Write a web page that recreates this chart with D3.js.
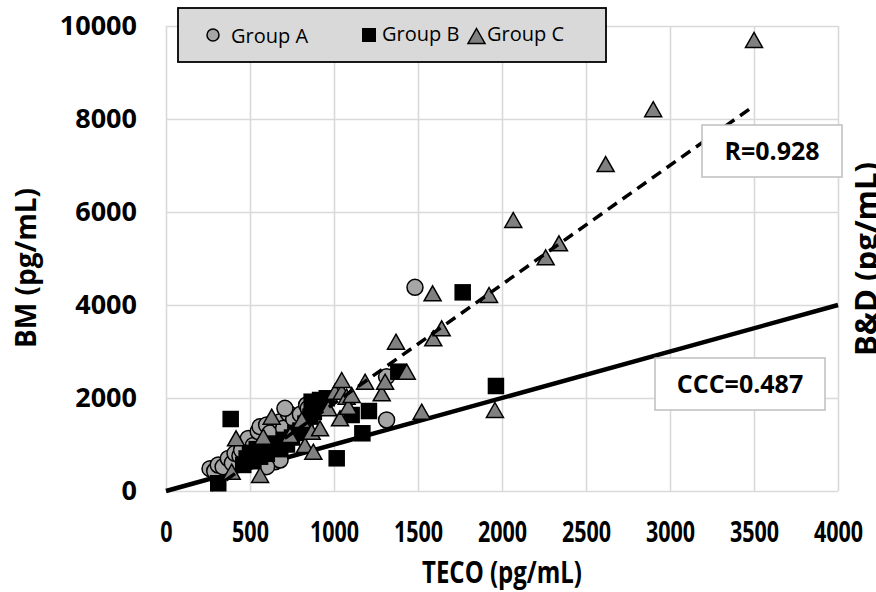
<!DOCTYPE html>
<html>
<head>
<meta charset="utf-8">
<script src="https://cdn.jsdelivr.net/npm/d3@7/dist/d3.min.js"></script>
<style>
  body { margin: 0; background: #fff; }
  svg { display: block; }
</style>
</head>
<body>
<div id="chart"></div>
<script>
// values, [TECO, BM] in pg/mL
var groupA = [
  [262, 480], [290, 430], [311, 560], [340, 520], [371, 700], [395, 600],
  [411, 810], [440, 760], [450, 880], [490, 1130], [520, 980], [549, 1280],
  [560, 1383], [599, 1420], [620, 1250], [649, 845], [649, 630], [679, 667],
  [599, 523], [679, 1490], [700, 1350], [728, 1671], [760, 1550], [708, 1778],
  [800, 1650], [837, 1849], [847, 1778], [1313, 1527], [1313, 2459], [1482, 4380]
];
var groupB = [
  [311, 166], [385, 1548], [460, 560], [480, 700], [500, 820], [520, 640],
  [540, 900], [560, 738], [600, 800], [620, 950], [650, 1020], [680, 900],
  [700, 1100], [720, 1000], [750, 1150], [770, 1250], [800, 1300], [830, 1450],
  [860, 1600], [867, 1920], [880, 1700], [897, 1813], [917, 1957], [940, 1850],
  [957, 1994], [1016, 703], [1105, 1634], [1169, 1241], [1208, 1720],
  [1383, 2566], [1766, 4272], [1964, 2258]
];
var groupC = [
  [391, 415], [417, 1133], [560, 344], [579, 1168], [629, 1598], [738, 1204],
  [808, 1527], [827, 989], [867, 1276], [877, 845], [917, 1348], [966, 1778],
  [1006, 2136], [1036, 1563], [1046, 2136], [1046, 2387], [1075, 2028],
  [1085, 1813], [1105, 2065], [1185, 2351], [1284, 2101], [1304, 2351],
  [1369, 3211], [1433, 2566], [1522, 1706], [1587, 4251], [1591, 3283],
  [1641, 3498], [1923, 4215], [1958, 1742], [2067, 5828], [2260, 5026],
  [2339, 5327], [2617, 7032], [2900, 8210], [3500, 9700]
];
var xTicks = [0, 500, 1000, 1500, 2000, 2500, 3000, 3500, 4000];
var yTicks = [0, 2000, 4000, 6000, 8000, 10000];
var legendLabels = ["Group A", "Group B", "Group C"];
var fitLine = [[270, 13], [3500, 8282]];     // regression (dashed)
var identityLine = [[0, 0], [4000, 4000]];   // y = x (solid)
var notes = ["R=0.928", "CCC=0.487"];

var width = 876,
    height = 592,
    pLeft = 166, pRight = 838, pTop = 26, pBottom = 491;

var x = d3.scaleLinear().domain([0, 4000]).range([pLeft, pRight]);
var y = d3.scaleLinear().domain([0, 10000]).range([pBottom, pTop]);

var svg = d3.select("#chart").append("svg")
    .attr("width", width)
    .attr("height", height)
    .style("font-family", "'Open Sans', sans-serif");

svg.append("rect").attr("width", width).attr("height", height).attr("fill", "#fff");

// grid + tick labels
var yAxis = svg.append("g")
    .attr("transform", "translate(" + pLeft + ",0)")
    .call(d3.axisLeft(y).tickValues(yTicks).tickFormat(d3.format("d"))
      .tickSize(-(pRight - pLeft)).tickPadding(29));
var xAxis = svg.append("g")
    .attr("transform", "translate(0," + pBottom + ")")
    .call(d3.axisBottom(x).tickValues(xTicks).tickFormat(d3.format("d"))
      .tickSize(-(pBottom - pTop)));

[xAxis, yAxis].forEach(function (g) {
  g.select(".domain").remove();
  g.selectAll("line").attr("stroke", "#d9d9d9").attr("stroke-width", 1.6);
  g.selectAll("text")
    .attr("fill", "#000")
    .style("font-family", "'Open Sans', sans-serif")
    .style("font-size", "27px")
    .style("font-weight", "bold");
});
// the x labels are set narrower than the y ones in the picture
xAxis.selectAll("text")
  .attr("dy", 0).attr("y", 51)
  .style("font-size", "29px")
  .attr("textLength", function (d) { return String(d).length * 12.3; })
  .attr("lengthAdjust", "spacingAndGlyphs");

var line = d3.line().x(function (d) { return x(d[0]); }).y(function (d) { return y(d[1]); });

svg.append("path")
  .datum(identityLine)
  .attr("d", line)
  .attr("fill", "none")
  .attr("stroke", "#000")
  .attr("stroke-width", 4.5);

// markers
var markers = svg.append("g").attr("stroke", "#000").attr("stroke-width", 1.5);

markers.selectAll("circle.a")
  .data(groupA).enter().append("circle")
  .attr("cx", function (d) { return x(d[0]); })
  .attr("cy", function (d) { return y(d[1]); })
  .attr("r", 8)
  .attr("fill", "#a6a6a6");

markers.selectAll("rect.b")
  .data(groupB).enter().append("rect")
  .attr("x", function (d) { return x(d[0]) - 7.5; })
  .attr("y", function (d) { return y(d[1]) - 7.5; })
  .attr("width", 15)
  .attr("height", 15)
  .attr("fill", "#000");

function tri(cx, cy, w, h) {
  return "M" + cx + "," + (cy - h / 2) + "L" + (cx + w / 2) + "," + (cy + h / 2) +
    "L" + (cx - w / 2) + "," + (cy + h / 2) + "Z";
}

markers.selectAll("path.c")
  .data(groupC).enter().append("path")
  .attr("d", function (d) { return tri(x(d[0]), y(d[1]), 17, 15); })
  .attr("fill", "#808080");

svg.append("path")
  .datum(fitLine)
  .attr("d", line)
  .attr("fill", "none")
  .attr("stroke", "#000")
  .attr("stroke-width", 3.5)
  .attr("stroke-dasharray", "11,7");

// R / CCC boxes
var boxes = [
  { text: notes[0], x0: 702, y0: 125, w: 140, h: 52 },
  { text: notes[1], x0: 655, y0: 358, w: 170, h: 52 }
];
boxes.forEach(function (b) {
  svg.append("rect")
    .attr("x", b.x0).attr("y", b.y0).attr("width", b.w).attr("height", b.h)
    .attr("fill", "#fff").attr("stroke", "#bfbfbf").attr("stroke-width", 1.5);
  svg.append("text")
    .attr("x", b.x0 + b.w / 2).attr("y", b.y0 + b.h / 2 + 9)
    .attr("text-anchor", "middle")
    .style("font-size", "25px").style("font-weight", "bold")
    .text(b.text);
});

// legend
var legend = svg.append("g");
legend.append("rect")
  .attr("x", 178).attr("y", 8).attr("width", 428).attr("height", 54)
  .attr("fill", "#d9d9d9").attr("stroke", "#000").attr("stroke-width", 1.8);
legend.append("circle").attr("cx", 213).attr("cy", 35).attr("r", 6)
  .attr("fill", "#a6a6a6").attr("stroke", "#000").attr("stroke-width", 1.5);
legend.append("rect").attr("x", 362).attr("y", 28).attr("width", 14).attr("height", 14)
  .attr("fill", "#000");
legend.append("path").attr("d", tri(476.5, 36, 17, 15))
  .attr("fill", "#808080").attr("stroke", "#000").attr("stroke-width", 1.5);
var legendPos = [[231, 43], [382, 41], [487, 41]];
legend.selectAll("text")
  .data(legendLabels).enter().append("text")
  .attr("x", function (d, i) { return legendPos[i][0]; })
  .attr("y", function (d, i) { return legendPos[i][1]; })
  .style("font-size", "20px")
  .attr("fill", "#000")
  .text(function (d) { return d; });

// axis titles
svg.append("text")
  .attr("x", (pLeft + pRight) / 2).attr("y", 583)
  .attr("text-anchor", "middle")
  .attr("textLength", 160)
  .attr("lengthAdjust", "spacingAndGlyphs")
  .style("font-size", "30px").style("font-weight", "bold")
  .text("TECO (pg/mL)");
svg.append("text")
  .attr("transform", "translate(36,268) rotate(-90)")
  .attr("text-anchor", "middle")
  .style("font-size", "28px").style("font-weight", "bold")
  .text("BM (pg/mL)");
svg.append("text")
  .attr("transform", "translate(877,259) rotate(-90)")
  .attr("text-anchor", "middle")
  .style("font-size", "31px").style("font-weight", "bold")
  .text("B&D (pg/mL)");
</script>
</body>
</html>
